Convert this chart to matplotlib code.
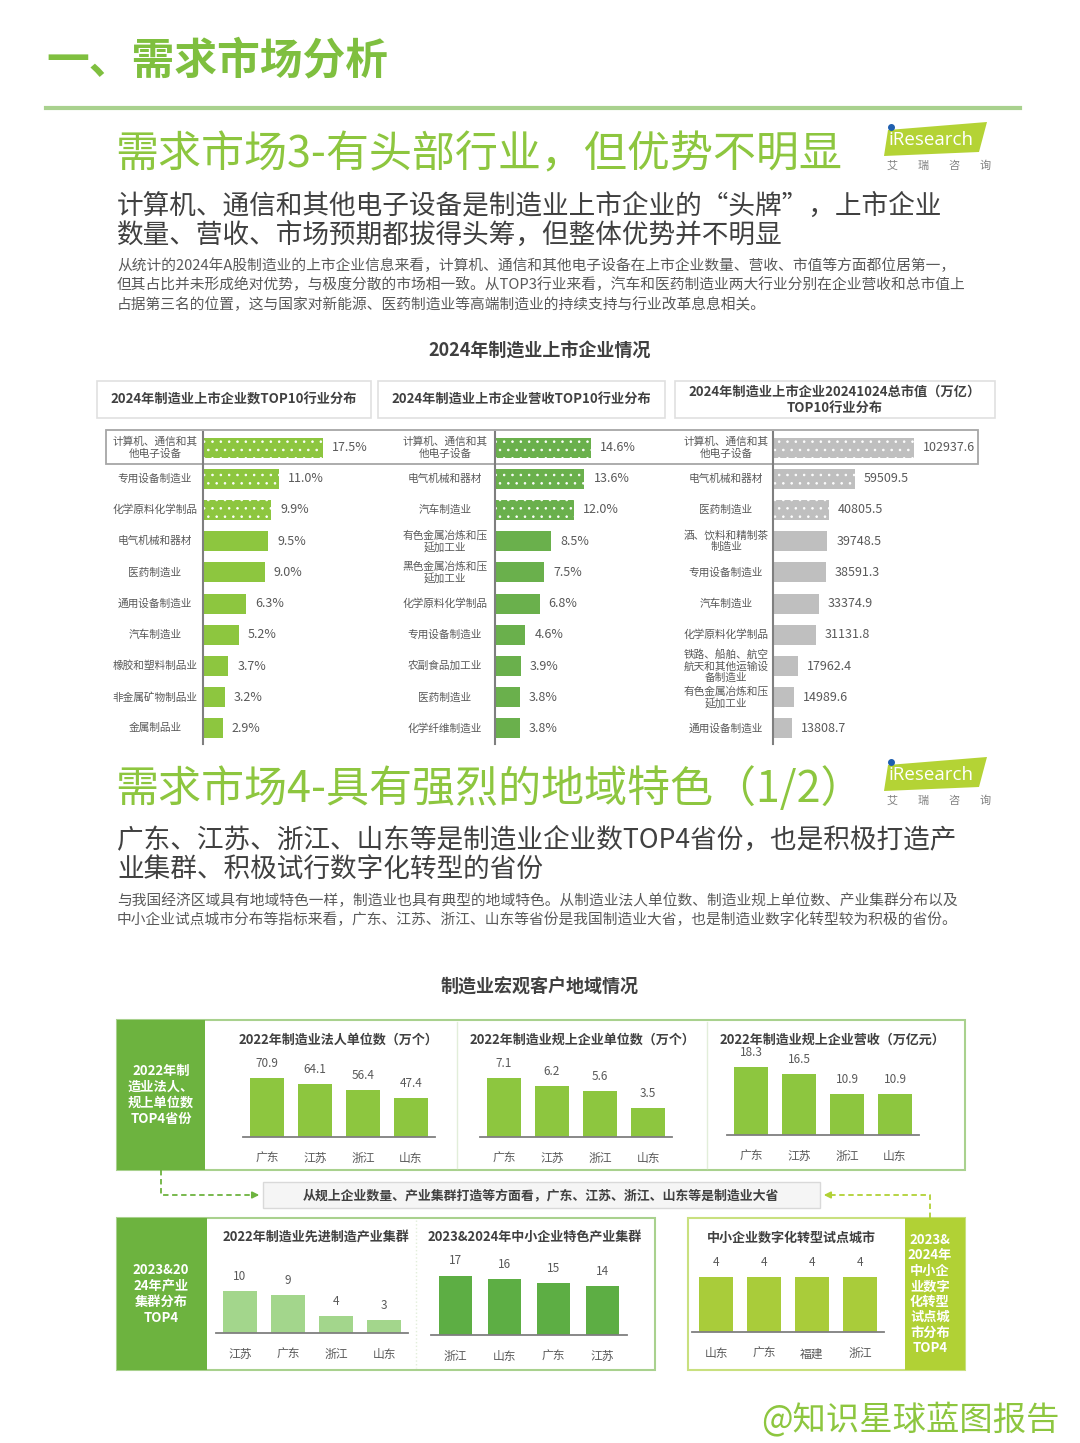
import matplotlib.pyplot as plt
from matplotlib.patches import Rectangle, Polygon

plt.rcParams['font.family'] = ['Noto Sans CJK SC', 'DejaVu Sans']
plt.rcParams['hatch.linewidth'] = 0.6

W, H = 1080, 1443

# ---- data: top 10 industries (2024 listed manufacturing companies) ----
count_labels = ['计算机、通信和其\n他电子设备', '专用设备制造业', '化学原料化学制品', '电气机械和器材',
                '医药制造业', '通用设备制造业', '汽车制造业', '橡胶和塑料制品业', '非金属矿物制品业', '金属制品业']
count_values = [17.5, 11.0, 9.9, 9.5, 9.0, 6.3, 5.2, 3.7, 3.2, 2.9]

revenue_labels = ['计算机、通信和其\n他电子设备', '电气机械和器材', '汽车制造业', '有色金属冶炼和压\n延加工业',
                  '黑色金属冶炼和压\n延加工业', '化学原料化学制品', '专用设备制造业', '农副食品加工业',
                  '医药制造业', '化学纤维制造业']
revenue_values = [14.6, 13.6, 12.0, 8.5, 7.5, 6.8, 4.6, 3.9, 3.8, 3.8]

cap_labels = ['计算机、通信和其\n他电子设备', '电气机械和器材', '医药制造业', '酒、饮料和精制茶\n制造业',
              '专用设备制造业', '汽车制造业', '化学原料化学制品', '铁路、船舶、航空\n航天和其他运输设\n备制造业',
              '有色金属冶炼和压\n延加工业', '通用设备制造业']
cap_values = [102937.6, 59509.5, 40805.5, 39748.5, 38591.3, 33374.9, 31131.8, 17962.4, 14989.6, 13808.7]

# ---- data: regional panels ----
top4_prov = ['广东', '江苏', '浙江', '山东']
legal_units = [70.9, 64.1, 56.4, 47.4]
above_units = [7.1, 6.2, 5.6, 3.5]
above_revenue = [18.3, 16.5, 10.9, 10.9]
adv_prov = ['江苏', '广东', '浙江', '山东']
adv_clusters = [10, 9, 4, 3]
sme_prov = ['浙江', '山东', '广东', '江苏']
sme_clusters = [17, 16, 15, 14]
pilot_prov = ['山东', '广东', '福建', '浙江']
pilot_cities = [4, 4, 4, 4]

GREEN = '#8DC63F'
DARK = '#404040'
GREY = '#595959'

fig = plt.figure(figsize=(W / 100, H / 100), dpi=100)
bg = fig.add_axes([0, 0, 1, 1])
bg.set_xlim(0, W)
bg.set_ylim(H, 0)
bg.axis('off')


def px_axes(x0, y0, x1, y1):
    ax = fig.add_axes([x0 / W, 1 - y1 / H, (x1 - x0) / W, (y1 - y0) / H])
    ax.patch.set_alpha(0)
    return ax


def logo(y):
    bg.add_patch(Polygon([(888, y + 8), (987, y), (979, y + 30), (884, y + 34)],
                         closed=True, color='#B4D335', lw=0))
    bg.text(889, y + 18, 'iResearch', color='white', fontsize=13.5, va='center', ha='left',
            family=['Open Sans', 'DejaVu Sans'])
    bg.plot([890.5], [y + 5], 'o', color='#1F5FAF', ms=4)
    for i, ch in enumerate('艾瑞咨询'):
        bg.text(892 + i * 31, y + 44, ch, color='#808080', fontsize=8, va='center', ha='center')


# ---- header ----
bg.text(46, 60, '一、需求市场分析', color='#7FBF3F', fontsize=30.8, fontweight='bold', va='center')
bg.plot([46, 1020], [108, 108], color='#A9D18E', lw=3)

# ---- section 3 ----
bg.text(115, 155, '需求市场3-有头部行业，但优势不明显', color=GREEN, fontsize=31, va='center')
logo(122)
bg.text(117, 221, '计算机、通信和其他电子设备是制造业上市企业的“头牌”，上市企业\n数量、营收、市场预期都拔得头筹，但整体优势并不明显',
        color=DARK, fontsize=19.2, va='center', linespacing=1.12)
bg.text(117, 285, '从统计的2024年A股制造业的上市企业信息来看，计算机、通信和其他电子设备在上市企业数量、营收、市值等方面都位居第一，\n'
        '但其占比并未形成绝对优势，与极度分散的市场相一致。从TOP3行业来看，汽车和医药制造业两大行业分别在企业营收和总市值上\n'
        '占据第三名的位置，这与国家对新能源、医药制造业等高端制造业的持续支持与行业改革息息相关。',
        color=GREY, fontsize=10.6, va='center', linespacing=1.4)
bg.text(540, 351, '2024年制造业上市企业情况', color=DARK, fontsize=13, fontweight='bold', va='center', ha='center')

# panel header boxes
headers = [(97, 371, '2024年制造业上市企业数TOP10行业分布'),
           (378, 665, '2024年制造业上市企业营收TOP10行业分布'),
           (675, 995, '2024年制造业上市企业20241024总市值（万亿）\nTOP10行业分布')]
for x0, x1, t in headers:
    bg.add_patch(Rectangle((x0, 381), x1 - x0, 37, facecolor='white', edgecolor='#E0E0E0', lw=1.2))
    bg.text((x0 + x1) / 2, 400, t, color=DARK, fontsize=9.5, fontweight='bold',
            va='center', ha='center', linespacing=1.2)

# highlight frame around the first row
bg.add_patch(Rectangle((106, 430), 872, 34, facecolor='none', edgecolor='#A6A6A6', lw=1.3))


def hbar_panel(x_axis, x_right, labels, values, color, xmax, label_cx, pct):
    ax = px_axes(x_axis, 432, x_right, 744)
    bars = ax.barh(range(len(values)), values, height=0.64, color=color, edgecolor='white', linewidth=0)
    for b in bars[:3]:
        b.set_hatch('..')
    ax.set_xlim(0, xmax)
    ax.set_ylim(len(values) - 0.5, -0.5)
    ax.set_xticks([])
    ax.set_yticks([])
    for s in ['top', 'right', 'bottom']:
        ax.spines[s].set_visible(False)
    ax.spines['left'].set_color('#7F7F7F')
    ax.spines['left'].set_linewidth(1.5)
    lx = (label_cx - x_axis) / (x_right - x_axis)
    for i, (lab, v) in enumerate(zip(labels, values)):
        ax.text(lx, i, lab, transform=ax.get_yaxis_transform(), ha='center', va='center',
                fontsize=7.7, color=GREY, linespacing=1.1)
        txt = f'{v:.1f}%' if pct else f'{v:.1f}'
        ax.annotate(txt, (v, i), xytext=(9, 0), textcoords='offset pixels',
                    va='center', ha='left', fontsize=9, color=GREY)


hbar_panel(203, 375, count_labels, count_values, '#8DC63F', 25.0, 155, True)
hbar_panel(495, 668, revenue_labels, revenue_values, '#6AB04C', 26.3, 445, True)
hbar_panel(773, 995, cap_labels, cap_values, '#BFBFBF', 162000, 726, False)

# ---- section 4 ----
bg.text(115, 790, '需求市场4-具有强烈的地域特色（1/2）', color=GREEN, fontsize=31, va='center')
logo(757)
bg.text(117, 856, '广东、江苏、浙江、山东等是制造业企业数TOP4省份，也是积极打造产\n业集群、积极试行数字化转型的省份',
        color=DARK, fontsize=19.2, va='center', linespacing=1.12)
bg.text(117, 910, '与我国经济区域具有地域特色一样，制造业也具有典型的地域特色。从制造业法人单位数、制造业规上单位数、产业集群分布以及\n'
        '中小企业试点城市分布等指标来看，广东、江苏、浙江、山东等省份是我国制造业大省，也是制造业数字化转型较为积极的省份。',
        color=GREY, fontsize=10.6, va='center', linespacing=1.4)
bg.text(540, 987, '制造业宏观客户地域情况', color=DARK, fontsize=13, fontweight='bold', va='center', ha='center')

# frames
bg.add_patch(Rectangle((117, 1020), 848, 150, facecolor='none', edgecolor='#A9D18E', lw=1.5))
bg.add_patch(Rectangle((117, 1020), 88, 150, facecolor='#6DB33F', lw=0))
bg.plot([457, 457], [1022, 1168], color='#E2EEDA', lw=1)
bg.plot([707, 707], [1022, 1168], color='#E2EEDA', lw=1)
bg.text(161, 1095, '2022年制\n造业法人、\n规上单位数\nTOP4省份', color='white', fontsize=9.5,
        fontweight='bold', ha='center', va='center', linespacing=1.2)

bg.add_patch(Rectangle((117, 1218), 538, 152, facecolor='none', edgecolor='#A9D18E', lw=1.5))
bg.add_patch(Rectangle((117, 1218), 90, 152, facecolor='#6DB33F', lw=0))
bg.plot([416, 416], [1220, 1368], color='#E2EEDA', lw=1, ls=':')
bg.text(161, 1294, '2023&20\n24年产业\n集群分布\nTOP4', color='white', fontsize=9.5,
        fontweight='bold', ha='center', va='center', linespacing=1.2)

bg.add_patch(Rectangle((688, 1218), 277, 152, facecolor='none', edgecolor='#C9E07F', lw=1.5))
bg.add_patch(Rectangle((905, 1218), 60, 152, facecolor='#B1D135', lw=0))
bg.text(930, 1294, '2023&\n2024年\n中小企\n业数字\n化转型\n试点城\n市分布\nTOP4', color='white', fontsize=9.5,
        fontweight='bold', ha='center', va='center', linespacing=1.13)

# middle note and dashed connectors
bg.add_patch(Rectangle((263, 1182), 557, 26, facecolor='#F5F5F5', edgecolor='#D9D9D9', lw=1))
bg.text(541, 1195, '从规上企业数量、产业集群打造等方面看，广东、江苏、浙江、山东等是制造业大省', color=DARK,
        fontsize=9.3, fontweight='bold', ha='center', va='center')
bg.plot([161, 161, 255], [1170, 1195, 1195], color='#6DB33F', lw=1.3, ls=(0, (3, 2)))
bg.annotate('', xy=(262, 1195), xytext=(250, 1195),
            arrowprops=dict(arrowstyle='-|>', color='#6DB33F', lw=1.2, mutation_scale=10))
bg.plot([930, 930, 828], [1218, 1195, 1195], color='#B1D135', lw=1.3, ls=(0, (3, 2)))
bg.annotate('', xy=(821, 1195), xytext=(833, 1195),
            arrowprops=dict(arrowstyle='-|>', color='#B1D135', lw=1.2, mutation_scale=10))

# panel titles
titles = [(338, 1040, '2022年制造业法人单位数（万个）'),
          (582, 1040, '2022年制造业规上企业单位数（万个）'),
          (832, 1040, '2022年制造业规上企业营收（万亿元）'),
          (316, 1238, '2022年制造业先进制造产业集群'),
          (535, 1238, '2023&2024年中小企业特色产业集群'),
          (791, 1238, '中小企业数字化转型试点城市')]
for x, y, t in titles:
    bg.text(x, y, t, color=DARK, fontsize=9.4, fontweight='bold', ha='center', va='center')


def vbar_panel(x0, x1, y_base, px_per_unit, cats, values, color):
    h = 100
    ax = px_axes(x0, y_base - h, x1, y_base)
    ax.bar(range(len(values)), values, width=0.69, color=color)
    ax.set_xlim(-0.5, len(values) - 0.5)
    ax.set_ylim(0, h / px_per_unit)
    ax.set_yticks([])
    ax.set_xticks(range(len(cats)))
    ax.set_xticklabels(cats, fontsize=8.5, color=GREY)
    ax.tick_params(axis='x', length=0, pad=11)
    for s in ['top', 'right', 'left']:
        ax.spines[s].set_visible(False)
    ax.spines['bottom'].set_color('#7F7F7F')
    ax.spines['bottom'].set_linewidth(1.3)
    for i, v in enumerate(values):
        ax.annotate(f'{v}', (i, v), xytext=(0, 8), textcoords='offset pixels',
                    ha='center', va='bottom', fontsize=8.5, color=GREY)


vbar_panel(243, 435, 1137, 0.83, top4_prov, legal_units, '#8DC63F')
vbar_panel(480, 672, 1137, 8.3, top4_prov, above_units, '#8DC63F')
vbar_panel(727, 919, 1135, 3.72, top4_prov, above_revenue, '#8DC63F')
vbar_panel(216, 408, 1333, 4.2, adv_prov, adv_clusters, '#A3D68C')
vbar_panel(431, 627, 1335, 3.5, sme_prov, sme_clusters, '#5DAE44')
vbar_panel(692, 884, 1332, 13.75, pilot_prov, pilot_cities, '#A9CC3A')

# watermark
bg.text(1060, 1420, '@知识星球蓝图报告', color=GREEN, fontsize=24, ha='right', va='center')

plt.savefig('out.png', dpi=100)
